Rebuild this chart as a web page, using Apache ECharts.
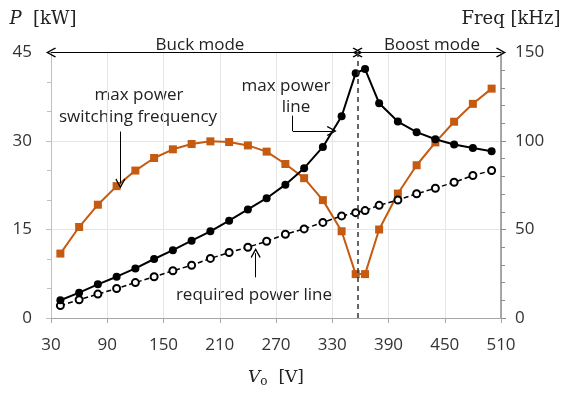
<!DOCTYPE html>
<html><head><meta charset="utf-8">
<script src="https://cdn.jsdelivr.net/npm/echarts@6/dist/echarts.min.js"></script>
<style>html,body{margin:0;padding:0;background:#fff}#c{width:565px;height:393px}</style>
</head><body><div id="c"></div>
<script>
// Output voltage Vo [V]
const vo = [40,60,80,100,120,140,160,180,200,220,240,260,280,300,320,340,355,365,380,400,420,440,460,480,500];
// max power line [kW]
const maxPower = [3.0,4.3,5.7,7.0,8.4,10.0,11.5,13.1,14.7,16.5,18.4,20.3,22.6,25.4,29.0,34.2,41.5,42.2,36.4,33.3,31.5,30.3,29.4,28.8,28.25];
// required power line [kW]
const reqPower = [2.1,3.1,4.05,5.0,6.0,7.0,8.0,8.95,10.1,11.1,12.0,13.0,14.2,15.1,16.2,17.3,17.85,18.2,19.1,20.0,21.05,22.0,23.0,24.15,25.0];
// max power switching frequency [kHz]
const freq = [36.4,51.4,64.0,74.5,83.3,90.4,95.3,98.3,99.8,99.4,97.5,94.0,87.0,79.0,66.6,49.0,24.8,24.8,50.0,70.3,86.3,99.2,110.9,121.0,129.6];
// mode boundary voltage
const boundaryV = 357;
const xTicks = {min:30, max:510, step:60};
const pTicks = {min:0, max:45, step:15};
const fTicks = {min:0, max:150, step:50};

const pair = (xs, ys) => xs.map((x,i)=>[x, ys[i]]);
const chev = 'path://M5,0 L10,9 L9,10 L5,2.6 L1,10 L0,9 Z';
const FONT = 'Open Sans';
const SERIF = 'DejaVu Serif';
const labelStyle = {color:'#333', fontFamily:FONT, fontSize:17};
const annFont = '17px "Open Sans"';
const ann = (x, y, text) => ({type:'text', x, y, style:{text, align:'center', verticalAlign:'middle', fill:'#222', font:annFont}});

const chart = echarts.init(document.getElementById('c'), null, {renderer:'canvas'});
chart.setOption({
  animation:false,
  backgroundColor:'#fff',
  grid:{left:51, right:64, top:52.5, bottom:74, containLabel:false},
  xAxis:{type:'value', min:xTicks.min, max:xTicks.max, interval:xTicks.step,
    name:'{i|V}{s|o}  [V]', nameLocation:'middle', nameGap:50,
    nameTextStyle:{fontFamily:SERIF, fontSize:17, color:'#222', rich:{
      i:{fontFamily:SERIF, fontStyle:'italic', fontSize:17, color:'#222'},
      s:{fontFamily:SERIF, fontSize:12, color:'#222', verticalAlign:'bottom', padding:[8,0,0,0]}}},
    axisLine:{lineStyle:{color:'#a6a6a6'}}, axisTick:{show:true, length:5, lineStyle:{color:'#a6a6a6'}},
    axisLabel:Object.assign({margin:19}, labelStyle),
    splitLine:{show:true, lineStyle:{color:'#e6e6e6'}}},
  yAxis:[
    {type:'value', min:pTicks.min, max:pTicks.max, interval:pTicks.step,
     name:'{i|P}  [kW]', nameLocation:'end', nameGap:24,
     nameTextStyle:{fontFamily:SERIF, fontSize:18, color:'#222', padding:[0,16,0,0], rich:{
       i:{fontFamily:SERIF, fontStyle:'italic', fontSize:18, color:'#222'}}},
     axisLine:{show:true, lineStyle:{color:'#bfbfbf'}},
     axisTick:{show:true, length:5, lineStyle:{color:'#bfbfbf'}},
     minorTick:{show:true, splitNumber:3, length:4, lineStyle:{color:'#bfbfbf'}},
     axisLabel:Object.assign({margin:19}, labelStyle),
     splitLine:{show:true, lineStyle:{color:'#e6e6e6'}}},
    {type:'value', min:fTicks.min, max:fTicks.max, interval:fTicks.step, position:'right',
     name:'Freq [kHz]', nameLocation:'end', nameGap:24,
     nameTextStyle:{fontFamily:SERIF, fontSize:18, color:'#222', padding:[0,0,0,20]},
     axisLine:{show:true, lineStyle:{color:'#8c8c8c', width:1.5}},
     axisTick:{show:true, length:5, lineStyle:{color:'#8c8c8c'}},
     minorTick:{show:true, splitNumber:5, length:4, lineStyle:{color:'#8c8c8c'}},
     axisLabel:Object.assign({margin:14}, labelStyle),
     splitLine:{show:false}}
  ],
  series:[
    {name:'max power line', type:'line', yAxisIndex:0, data:pair(vo,maxPower),
     symbol:'circle', symbolSize:8, lineStyle:{color:'#000', width:2},
     itemStyle:{color:'#000'}, z:4,
     markLine:{silent:true, symbol:['none','none'], label:{show:false},
       lineStyle:{color:'#000', width:1, type:'solid'}, symbolSize:[10,10],
       data:[
         [{coord:[xTicks.min,pTicks.max], symbol:chev},{coord:[boundaryV,pTicks.max], symbol:chev}],
         [{coord:[boundaryV,pTicks.max], symbol:chev},{coord:[xTicks.max,pTicks.max], symbol:chev}],
         [{coord:[boundaryV,0], symbol:'none', lineStyle:{type:[5,4], width:1.5, color:'#333'}},{coord:[boundaryV,pTicks.max], symbol:'none'}],
         [{coord:[104,31.6], symbol:'none'},{coord:[104,22.8], symbol:chev}],
         [{coord:[287.8,34.3], symbol:'none'},{coord:[287.8,31.7], symbol:'none'}],
         [{coord:[287.8,31.7], symbol:'none'},{coord:[329.4,31.7], symbol:chev}],
         [{coord:[248.3,6.9], symbol:'none'},{coord:[248.3,11.0], symbol:chev}]
       ]}},
    {name:'required power line', type:'line', yAxisIndex:0, data:pair(vo,reqPower),
     symbol:'emptyCircle', symbolSize:7, lineStyle:{color:'#000', width:1.5, type:[5,3]},
     itemStyle:{color:'#000', borderWidth:2}, z:3},
    {name:'max power switching frequency', type:'line', yAxisIndex:1, data:pair(vo,freq),
     symbol:'rect', symbolSize:8, lineStyle:{color:'#c55a11', width:2},
     itemStyle:{color:'#c55a11'}, z:2}
  ],
  graphic:[
    ann(200, 45, 'Buck mode'),
    ann(432, 45, 'Boost mode'),
    ann(139, 95, 'max power'),
    ann(138, 117, 'switching frequency'),
    ann(286, 86, 'max power'),
    ann(296, 107, 'line'),
    ann(254, 295, 'required power line')
  ]
});
</script></body></html>
